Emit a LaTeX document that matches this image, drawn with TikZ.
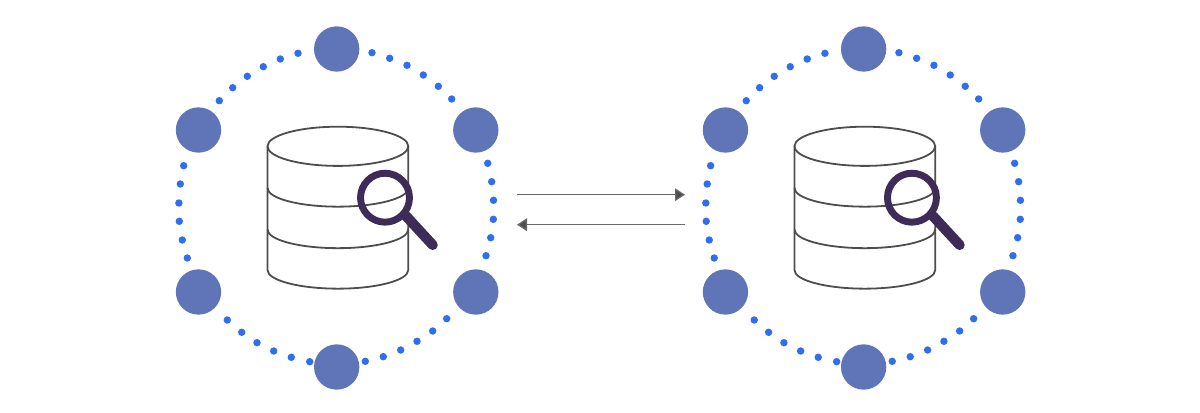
\documentclass[tikz,border=0pt]{standalone}
\usetikzlibrary{arrows.meta}
\definecolor{hostblue}{HTML}{5F75B7}
\definecolor{dotblue}{HTML}{2F6FED}
\definecolor{cylgrey}{HTML}{4D4D4D}
\definecolor{lensdark}{HTML}{3D2B58}
\tikzset{
  hostnode/.style={circle,fill=hostblue,draw=none,minimum size=34pt,inner sep=0pt},
  dotnode/.style={circle,fill=dotblue,draw=none,minimum size=5.6pt,inner sep=0pt},
  cylline/.style={draw=cylgrey,line width=1.35pt},
  lensring/.style={draw=lensdark,line width=5.2pt},
  lenshandle/.style={draw=lensdark,line width=7.6pt,line cap=round},
  linkarrow/.style={draw=cylgrey!85,line width=1pt,-{Triangle[length=7.5pt,width=9.5pt,fill=cylgrey]}},
}
\newcommand{\cluster}[1]{%
  \node[hostnode] (#1t) at (336.7,49) {};
  \node[hostnode] (#1ul) at (198.5,130) {};
  \node[hostnode] (#1ur) at (475.8,130) {};
  \node[hostnode] (#1ll) at (198.5,292) {};
  \node[hostnode] (#1lr) at (475.8,292) {};
  \node[hostnode] (#1b) at (336.7,367) {};
  \foreach \px/\py [count=\n] in {298/53.3,280.3/59,263.3/66.7,247.3/76.3,232.7/87.7,219.3/100.7,
    372/52.7,389.7/58.3,407/65.3,423.3/75,438.3/86.3,451.7/99,
    183.7/165.7,180.3/184,178.9/203,179.3/221.3,182.3/240,187.3/258,
    487.7/163.3,491.7/181.7,493.5/200.3,493.3/219.3,490.7/237.7,486/255.7,
    227.3/320,241.7/332.3,257/342.7,273.7/351,291.3/357.3,309.7/361.7,
    365.3/361.3,383.3/356.7,400.7/350,417/341.3,432.7/331,446.7/318.7}
    {\node[dotnode] (#1d\n) at (\px,\py) {};}
  \draw[cylline] (267.5,146.3) arc[start angle=180,end angle=540,x radius=52.8pt,y radius=14.7pt];
  \draw[cylline] (267.5,146.3) -- (267.5,270)
    arc[start angle=180,end angle=360,x radius=52.8pt,y radius=14pt] -- (408.3,146.3);
  \draw[cylline] (267.5,188) arc[start angle=180,end angle=360,x radius=52.8pt,y radius=14pt];
  \draw[cylline] (267.5,229.5) arc[start angle=180,end angle=360,x radius=52.8pt,y radius=14pt];
  \node[circle,lensring,minimum size=36.7pt,inner sep=0pt] (#1lens) at (385,197.7) {};
  \coordinate (#1hs) at (406,216);
  \coordinate (#1he) at (432.7,245);
  \draw[lenshandle] (#1hs) -- (#1he);
}
\begin{document}
\begin{tikzpicture}[x=0.75pt,y=-0.75pt]
  \useasboundingbox (0,0) rectangle (1200,413);
  \begin{scope}
    \cluster{a}
  \end{scope}
  \begin{scope}[xshift=395.2pt]
    \cluster{c}
  \end{scope}
  \coordinate (l1) at (517,194.7);
  \coordinate (r1) at (685,194.7);
  \coordinate (l2) at (517,224.7);
  \coordinate (r2) at (685,224.7);
  \draw[linkarrow] (l1) -- (r1);
  \draw[linkarrow] (r2) -- (l2);
\end{tikzpicture}
\end{document}
